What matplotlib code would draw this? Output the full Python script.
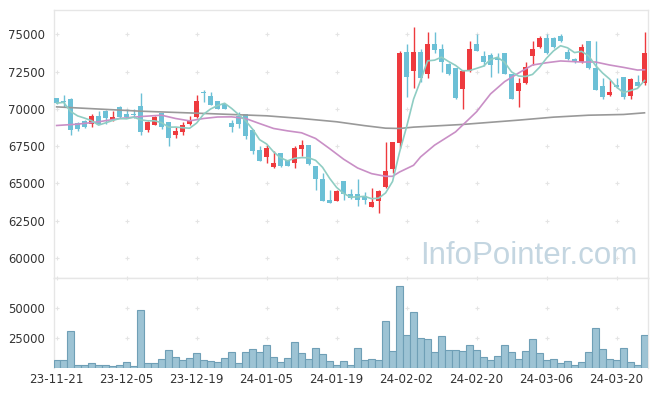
import numpy as np
import pandas as pd
import matplotlib
matplotlib.use('Agg')
import matplotlib.pyplot as plt

# trading days shown on the chart
dates = [
    '23-11-21', '23-11-22', '23-11-23', '23-11-24', '23-11-27', '23-11-28', '23-11-29', '23-11-30',
    '23-12-01', '23-12-04', '23-12-05', '23-12-06', '23-12-07', '23-12-08', '23-12-11', '23-12-12',
    '23-12-13', '23-12-14', '23-12-15', '23-12-18', '23-12-19', '23-12-20', '23-12-21', '23-12-22',
    '23-12-26', '23-12-27', '23-12-28', '24-01-02', '24-01-03', '24-01-04', '24-01-05', '24-01-08',
    '24-01-09', '24-01-10', '24-01-11', '24-01-12', '24-01-15', '24-01-16', '24-01-17', '24-01-18',
    '24-01-19', '24-01-22', '24-01-23', '24-01-24', '24-01-25', '24-01-26', '24-01-29', '24-01-30',
    '24-01-31', '24-02-01', '24-02-02', '24-02-05', '24-02-06', '24-02-07', '24-02-08', '24-02-13',
    '24-02-14', '24-02-15', '24-02-16', '24-02-19', '24-02-20', '24-02-21', '24-02-22', '24-02-23',
    '24-02-26', '24-02-27', '24-02-28', '24-02-29', '24-03-04', '24-03-05', '24-03-06', '24-03-07',
    '24-03-08', '24-03-11', '24-03-12', '24-03-13', '24-03-14', '24-03-15', '24-03-18', '24-03-19',
    '24-03-20', '24-03-21', '24-03-22', '24-03-25', '24-03-26',
]

opens = [70720, 70520, 70650, 69060, 69200, 68990, 69510, 69870, 69240, 70090,
         69640, 69620, 70220, 68590, 68940, 69690, 69100, 68250, 68450, 69010,
         69460, 71080, 70830, 70520, 70290, 69040, 69550, 69640, 68610, 67220,
         66770, 66100, 67020, 66550, 66390, 67310, 67560, 66140, 65310, 63880,
         63810, 65130, 64300, 64300, 64130, 63410, 63830, 64750, 65940, 67710,
         73810, 72550, 73830, 72350, 74370, 74010, 73000, 72710, 71350, 72530,
         74370, 73540, 73610, 73400, 73720, 72350, 71190, 71700, 73570, 74130,
         74730, 74730, 74890, 73790, 73360, 73160, 74530, 72710, 71500, 70900,
         71590, 72110, 70870, 71790, 71750]
highs = [70750, 70900, 70700, 69100, 69250, 69620, 69840, 69900, 69870, 70200,
         70020, 70000, 71030, 69170, 69530, 69700, 69100, 68770, 69100, 69550,
         70920, 71260, 71100, 70550, 70300, 69240, 69780, 69650, 68650, 67530,
         67580, 67200, 67050, 66560, 67530, 67940, 67580, 66150, 65720, 64530,
         64520, 65140, 64640, 65310, 64420, 64690, 64580, 67800, 67800, 73900,
         74330, 75470, 74000, 75180, 75180, 74330, 73050, 72750, 72600, 74530,
         75000, 73900, 73720, 73720, 73720, 72350, 72040, 73160, 74530, 74890,
         75000, 74800, 75000, 73990, 73400, 74370, 74550, 74530, 72090, 71930,
         72040, 72150, 72090, 72260, 75180]
lows = [70350, 70100, 68270, 68500, 68680, 68770, 69000, 69010, 69200, 69400,
        69400, 69350, 68210, 68450, 68900, 68650, 67530, 68070, 68270, 68900,
        69400, 70470, 70250, 70020, 70020, 68450, 68680, 68000, 66950, 66500,
        66390, 66050, 66120, 66170, 66010, 66820, 66210, 64570, 63810, 63700,
        63800, 63860, 63920, 63450, 63590, 63400, 63030, 64700, 65720, 67350,
        70810, 71370, 71800, 72040, 73720, 72490, 72300, 70650, 70000, 72450,
        73850, 72890, 72110, 72420, 72350, 70650, 70090, 71650, 72940, 74100,
        73700, 74100, 74450, 73300, 73050, 73100, 72700, 71250, 70630, 70880,
        71400, 70630, 70650, 71450, 71570]
closes = [70380, 70480, 68590, 68650, 68770, 69510, 69010, 69350, 69440, 69420,
          69420, 69580, 68450, 69100, 69420, 68790, 68070, 68500, 68880, 69240,
          70520, 71050, 70250, 70020, 70020, 68790, 68990, 68180, 67180, 66500,
          67350, 66350, 66170, 66170, 67350, 67580, 66300, 65310, 63810, 63700,
          64510, 64300, 64040, 63900, 63880, 63720, 64460, 65810, 67760, 73720,
          72150, 73810, 72040, 74370, 73950, 73160, 72350, 70740, 72560, 74010,
          73900, 73120, 72960, 73300, 72350, 70650, 71730, 72800, 74010, 74730,
          73720, 74170, 74530, 73320, 73120, 74130, 72710, 71260, 70810, 71100,
          71430, 70810, 71990, 71520, 73740]
volumes = [5870, 5870, 30170, 1680, 2500, 3350, 1680, 2500, 840, 2500,
           4190, 840, 47760, 3350, 3350, 6700, 14240, 8380, 5870, 7540,
           11730, 5870, 5030, 4190, 7540, 12570, 3350, 12570, 15080, 12570,
           18430, 8380, 4190, 7540, 20950, 11730, 6700, 15920, 10890, 5030,
           2500, 5030, 1680, 15920, 6140, 6700, 6140, 38540, 13690, 67870,
           26810, 46080, 24300, 23460, 12570, 25970, 14240, 14240, 13410, 18430,
           14240, 8380, 5870, 9220, 18430, 12570, 6700, 13410, 23460, 11730,
           5870, 6700, 3350, 5030, 2500, 4190, 12570, 32680, 15080, 6700,
           5870, 15920, 4190, 2500, 26810]

# moving averages (20-day and long term)
ma20_dates = ['23-11-21', '23-11-24', '23-11-29', '23-12-04', '23-12-07', '23-12-12', '23-12-14',
              '23-12-18', '23-12-20', '23-12-22', '23-12-27', '24-01-02', '24-01-04', '24-01-08',
              '24-01-10', '24-01-12', '24-01-16', '24-01-18', '24-01-22', '24-01-24', '24-01-26',
              '24-01-30', '24-01-31', '24-02-01', '24-02-05', '24-02-06', '24-02-08', '24-02-15',
              '24-02-16', '24-02-20', '24-02-22', '24-02-26', '24-02-28', '24-03-04', '24-03-06',
              '24-03-08', '24-03-13', '24-03-15', '24-03-19', '24-03-21', '24-03-25', '24-03-26']
ma20_vals = [68880, 68970, 69130, 69350, 69480, 69570, 69350,
             69190, 69350, 69450, 69460, 69350, 69010, 68680,
             68520, 68390, 68010, 67330, 66620, 66030, 65650,
             65470, 65470, 65760, 66210, 66770, 67560, 68450,
             68900, 69800, 71000, 71820, 72400, 72940, 73090,
             73210, 73140, 73140, 72940, 72780, 72600, 72620]
malong_dates = ['23-11-21', '23-12-07', '23-12-20', '24-01-05', '24-01-12', '24-01-19', '24-01-25',
                '24-01-30', '24-02-01', '24-02-05', '24-02-16', '24-02-28', '24-03-07', '24-03-14',
                '24-03-21', '24-03-26']
malong_vals = [70130, 69840, 69690, 69530, 69350, 69130, 68870,
               68700, 68680, 68770, 68950, 69240, 69440, 69570,
               69620, 69730]

price_ticks = [60000, 62500, 65000, 67500, 70000, 72500, 75000]
vol_ticks = [25000, 50000]
xtick_labels = ['23-11-21', '23-12-05', '23-12-19', '24-01-05', '24-01-19',
                '24-02-02', '24-02-20', '24-03-06', '24-03-20']

UP = '#ee3a3e'
DOWN = '#6cc0d6'
GRID = '#e4e4e4'
SPINE = '#e6e6e6'
TXT = '#333333'

df = pd.DataFrame({'open': opens, 'high': highs, 'low': lows,
                   'close': closes, 'volume': volumes}, index=dates)
x = np.arange(len(df))
ma5 = df['close'].rolling(5, min_periods=1).mean()
pos = {d: i for i, d in enumerate(dates)}

W, H = 657, 396
fig = plt.figure(figsize=(W / 100, H / 100), dpi=100)
ax = fig.add_axes([53.5 / W, 1 - 277.5 / H, 594.5 / W, 267.5 / H])
axv = fig.add_axes([53.5 / W, 1 - 367.5 / H, 594.5 / W, 89.5 / H], sharex=ax)

# candles
up = df['close'] >= df['open']
cols = np.where(up, UP, DOWN)
body_lo = np.minimum(df['open'], df['close'])
body_h = np.maximum((df['close'] - df['open']).abs(), 70)
ax.vlines(x, df['low'], df['high'], colors=cols, linewidth=1.0, zorder=3)
ax.bar(x, body_h, bottom=body_lo, width=0.72, color=cols, linewidth=0, zorder=4)

# moving averages
ax.plot([pos[d] for d in malong_dates], malong_vals, color='#999999', lw=1.2, zorder=5)
ax.plot([pos[d] for d in ma20_dates], ma20_vals, color='#c98fc6', lw=1.2, zorder=5)
ax.plot(x, ma5, color='#8fcdc3', lw=1.2, zorder=5)

xt = [pos[d] for d in xtick_labels]
gx, gy = np.meshgrid(xt, price_ticks)
ax.scatter(gx.ravel(), gy.ravel(), marker='+', s=11, color=GRID, linewidths=0.8, zorder=0)

ax.text(0.80, 0.082, 'InfoPointer.com', transform=ax.transAxes, ha='center', va='center',
        fontsize=22.5, family='Liberation Sans', color='#c4d6e1', zorder=1)

ax.set_xlim(-0.45, 84.5)
ax.set_ylim(58680, 76630)
ax.set_yticks(price_ticks)
ax.set_yticklabels([str(t) for t in price_ticks])
ax.tick_params(axis='y', length=0, pad=6, labelsize=8.4, labelcolor=TXT)
ax.tick_params(axis='x', length=0, labelbottom=False)

# volume
axv.bar(x, df['volume'], width=0.9, color='#9dc3d4', edgecolor='#6f9fb6', linewidth=0.8, zorder=3)
gx, gy = np.meshgrid(xt, vol_ticks + [75000])
axv.scatter(gx.ravel(), gy.ravel(), marker='+', s=11, color=GRID, linewidths=0.8, zorder=0,
            clip_on=False)
axv.set_ylim(0, 74800)
axv.set_yticks(vol_ticks)
axv.set_yticklabels([str(t) for t in vol_ticks])
axv.set_xticks(xt)
axv.set_xticklabels(xtick_labels)
axv.tick_params(axis='y', length=0, pad=6, labelsize=8.4, labelcolor=TXT)
axv.tick_params(axis='x', length=0, pad=4, labelsize=8.6, labelcolor=TXT)

for a in (ax, axv):
    for s in a.spines.values():
        s.set_color(SPINE)
        s.set_linewidth(1.0)
axv.spines['bottom'].set_visible(False)

plt.savefig('out.png', dpi=100)
